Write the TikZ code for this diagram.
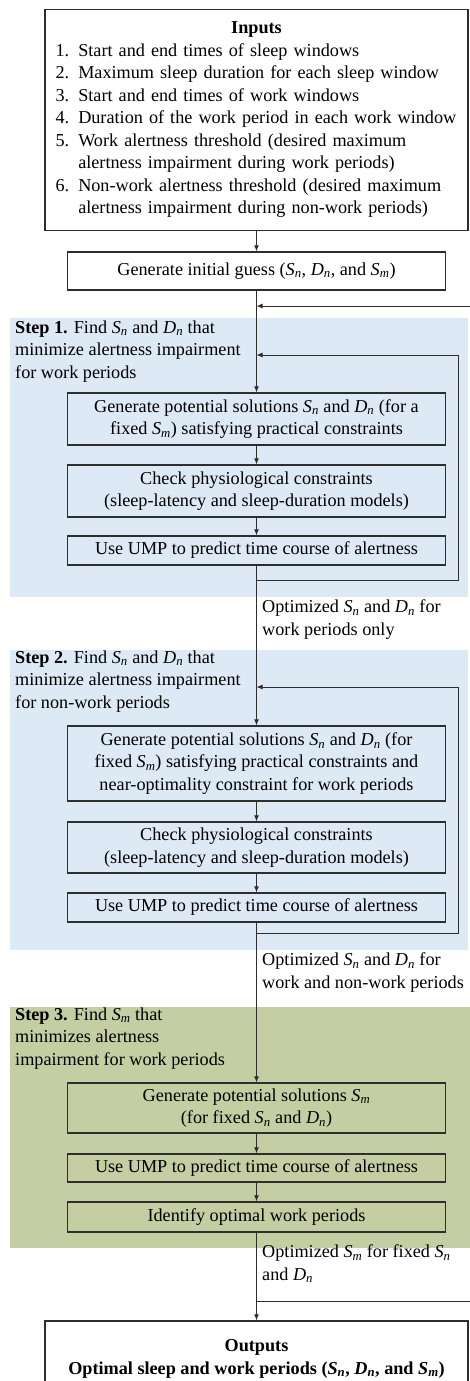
\documentclass[tikz,border=0pt]{standalone}
\usepackage{fontspec}
\setmainfont{Liberation Serif}
\usepackage{xcolor}
\usetikzlibrary{arrows.meta}
\definecolor{stepblue}{HTML}{DDE9F4}
\definecolor{stepgreen}{HTML}{C4CEA2}
\definecolor{edge}{HTML}{2E2E2E}
\newcommand{\bodyfont}{\fontsize{18.2}{22.5}\selectfont}
\newcommand{\sub}[2]{\textit{#1}\textsubscript{\textit{#2}}}
\tikzset{
  box/.style={draw=edge, line width=1.3pt, minimum width=378pt, inner sep=0pt, align=center},
  flow/.style={-{Latex[length=6pt,width=5pt]}, draw=edge, line width=0.9pt},
  wire/.style={draw=edge, line width=0.9pt},
  steplab/.style={anchor=base west, align=left, inner sep=0pt},
  note/.style={anchor=base west, align=left, inner sep=0pt}
}

\begin{document}
\begin{tikzpicture}[x=1pt, y=-1pt, font=\bodyfont]
  \useasboundingbox (0,0) rectangle (470,1381);
  % step backgrounds
  \fill[stepblue] (10,318) rectangle (468,597);
  \fill[stepblue] (10,650) rectangle (468,950);
  \fill[stepgreen] (10,1007) rectangle (470,1248);

  % inputs and first guess
  \node[box, minimum width=423pt, minimum height=221pt, text width=402pt, align=left] (inputs) at (256.5,120)
    {\makebox[402pt]{\textbf{Inputs}}\\
     1. Start and end times of sleep windows\\
     2. Maximum sleep duration for each sleep window\\
     3. Start and end times of work windows\\
     4. Duration of the work period in each work window\\
     5. Work alertness threshold (desired maximum\\
     \phantom{5. }alertness impairment during work periods)\\
     6. Non-work alertness threshold (desired maximum\\
     \phantom{6. }alertness impairment during non-work periods)};
  \node[box, minimum height=38pt] (guess) at (256.5,271)
    {Generate initial guess (\sub{S}{n}, \sub{D}{n}, and \sub{S}{m})};

  % step 1 (base = last line)
  \node[steplab] (lab1) at (15,378)
    {\textbf{Step 1.} Find \sub{S}{n} and \sub{D}{n} that\\minimize alertness impairment\\for work periods};
  \node[box, minimum height=52pt] (s1a) at (256.5,419)
    {Generate potential solutions \sub{S}{n} and \sub{D}{n} (for a\\fixed \sub{S}{m}) satisfying practical constraints};
  \node[box, minimum height=52pt] (s1b) at (256.5,491)
    {Check physiological constraints\\(sleep-latency and sleep-duration models)};
  \node[box, minimum height=29pt] (s1c) at (256.5,550.5)
    {Use UMP to predict time course of alertness};
  \node[note] (note1) at (262,635)
    {Optimized \sub{S}{n} and \sub{D}{n} for\\work periods only};

  % step 2
  \node[steplab] (lab2) at (15,708)
    {\textbf{Step 2.} Find \sub{S}{n} and \sub{D}{n} that\\minimize alertness impairment\\for non-work periods};
  \node[box, minimum height=75pt] (s2a) at (256.5,763.5)
    {Generate potential solutions \sub{S}{n} and \sub{D}{n} (for\\fixed \sub{S}{m}) satisfying practical constraints and\\near-optimality constraint for work periods};
  \node[box, minimum height=51pt] (s2b) at (256.5,847.5)
    {Check physiological constraints\\(sleep-latency and sleep-duration models)};
  \node[box, minimum height=29pt] (s2c) at (256.5,907.5)
    {Use UMP to predict time course of alertness};
  \node[note] (note2) at (262,988)
    {Optimized \sub{S}{n} and \sub{D}{n} for\\work and non-work periods};

  % step 3
  \node[steplab] (lab3) at (15,1065)
    {\textbf{Step 3.} Find \sub{S}{m} that\\minimizes alertness\\impairment for work periods};
  \node[box, minimum height=50pt] (s3a) at (256.5,1108)
    {Generate potential solutions \sub{S}{m}\\(for fixed \sub{S}{n} and \sub{D}{n})};
  \node[box, minimum height=28pt] (s3b) at (256.5,1168)
    {Use UMP to predict time course of alertness};
  \node[box, minimum height=30pt] (s3c) at (256.5,1217)
    {Identify optimal work periods};
  \node[note] (note3) at (262,1280)
    {Optimized \sub{S}{m} for fixed \sub{S}{n}\\and \sub{D}{n}};

  % outputs
  \node[box, minimum width=423pt, minimum height=76pt] (outputs) at (256.5,1359)
    {\textbf{Outputs}\\\textbf{Optimal sleep and work periods (\sub{S}{n}, \sub{D}{n}, and \sub{S}{m})}};

  % loop points
  \coordinate (back) at (470,306);
  \coordinate (in0) at (256.5,306);
  \coordinate (in1) at (256.5,355);
  \coordinate (r1) at (458,355);
  \coordinate (r1b) at (458,580);
  \coordinate (out1) at (256.5,580);
  \coordinate (in2) at (256.5,687);
  \coordinate (r2) at (458,687);
  \coordinate (r2b) at (458,933);
  \coordinate (out2) at (256.5,933);
  \coordinate (split) at (256.5,1301);
  \coordinate (exit) at (470,1301);

  % main flow
  \draw[flow] (inputs.south) -- (guess.north);
  \draw[flow] (guess.south) -- (s1a.north);
  \draw[flow] (s1a.south) -- (s1b.north);
  \draw[flow] (s1b.south) -- (s1c.north);
  \draw[flow] (s1c.south) -- (s2a.north);
  \draw[flow] (s2a.south) -- (s2b.north);
  \draw[flow] (s2b.south) -- (s2c.north);
  \draw[flow] (s2c.south) -- (s3a.north);
  \draw[flow] (s3a.south) -- (s3b.north);
  \draw[flow] (s3b.south) -- (s3c.north);
  \draw[flow] (s3c.south) -- (outputs.north);

  % feedback lines
  \draw[flow] (back) -- (in0);
  \draw[flow] (out1) -- (r1b) -- (r1) -- (in1);
  \draw[flow] (out2) -- (r2b) -- (r2) -- (in2);
  \draw[wire] (split) -- (exit);
\end{tikzpicture}
\end{document}
